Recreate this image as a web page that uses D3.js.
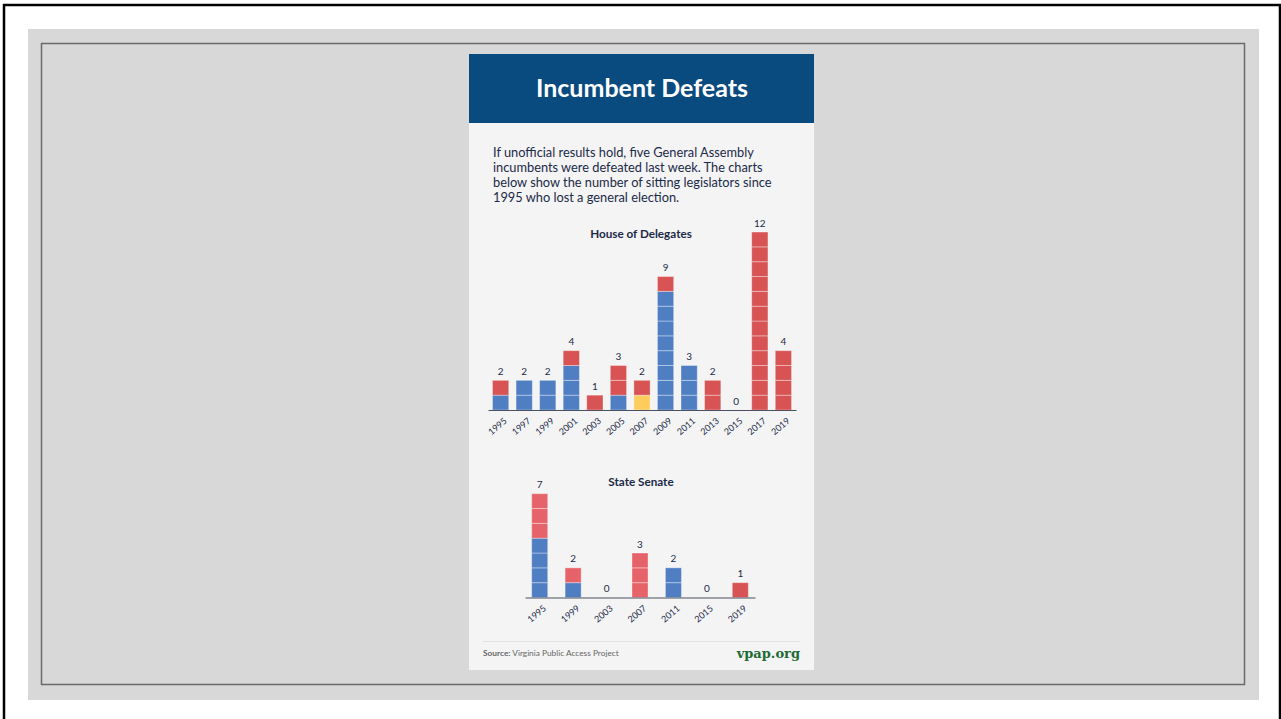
<!DOCTYPE html>
<html>
<head>
<meta charset="utf-8">
<script src="https://cdn.jsdelivr.net/npm/d3@7"></script>
<style>
    body { margin: 0; background: #fff; }
    svg { display: block; font-family: Lato, "Open Sans", sans-serif; }
</style>
</head>
<body>
<svg id="svg1" width="1281" height="719"></svg>
<script>
// House of Delegates: one entry per defeated incumbent, bottom to top
var houseYears = ["1995", "1997", "1999", "2001", "2003", "2005", "2007", "2009", "2011", "2013", "2015", "2017", "2019"];
var houseSegments = [
    ["D", "R"],
    ["D", "D"],
    ["D", "D"],
    ["D", "D", "D", "R"],
    ["R"],
    ["D", "R", "R"],
    ["I", "R"],
    ["D", "D", "D", "D", "D", "D", "D", "D", "R"],
    ["D", "D", "D"],
    ["R", "R"],
    [],
    ["R", "R", "R", "R", "R", "R", "R", "R", "R", "R", "R", "R"],
    ["R", "R", "R", "R"]
];

// State Senate
var senateYears = ["1995", "1999", "2003", "2007", "2011", "2015", "2019"];
var senateSegments = [
    ["D", "D", "D", "D", "r", "r", "r"],
    ["D", "r"],
    [],
    ["r", "r", "r"],
    ["D", "D"],
    [],
    ["R"]
];

var introLines = [
    "If unofficial results hold, five General Assembly",
    "incumbents were defeated last week. The charts",
    "below show the number of sitting legislators since",
    "1995 who lost a general election."
];

var partyColor = { D: "#4f7ec3", R: "#d85354", r: "#e6636a", I: "#fdcd5c" };

var svg = d3.select("#svg1");

// page frames
svg.append("rect").attr("x", 4).attr("y", 5).attr("width", 1276).attr("height", 740)
    .attr("fill", "#fff").attr("stroke", "#000").attr("stroke-width", 2.5);
svg.append("rect").attr("x", 28).attr("y", 29).attr("width", 1231).attr("height", 671)
    .attr("fill", "#d8d8d8");
svg.append("rect").attr("x", 41.5).attr("y", 43.5).attr("width", 1203).attr("height", 641)
    .attr("fill", "#d8d8d8").attr("stroke", "#6a6a6a").attr("stroke-width", 1.5);

// card
svg.append("rect").attr("x", 469).attr("y", 54).attr("width", 345).attr("height", 616)
    .attr("fill", "#f4f4f4");
svg.append("rect").attr("x", 469).attr("y", 54).attr("width", 345).attr("height", 69)
    .attr("fill", "#0a4b7f");

svg.append("text")
    .attr("x", 642).attr("y", 97)
    .attr("text-anchor", "middle")
    .style("font-size", "25px").style("font-weight", "bold")
    .attr("fill", "#fff")
    .text("Incumbent Defeats");

svg.append("text")
    .attr("x", 493).attr("y", 157)
    .style("font-size", "12.8px")
    .attr("fill", "#1b2a48")
    .selectAll("tspan")
    .data(introLines)
    .enter().append("tspan")
    .attr("x", 493)
    .attr("dy", function (d, i) { return i ? 15 : 0; })
    .text(function (d) { return d; });

var unit = 14.83;

function draw(title, titleY, years, segments, range, padInner, padOuter, baseline, maxVal) {
    var x = d3.scaleBand()
        .domain(years)
        .range(range)
        .paddingInner(padInner)
        .paddingOuter(padOuter);

    var y = d3.scaleLinear()
        .domain([0, maxVal])
        .range([baseline, baseline - maxVal * unit]);

    svg.append("text")
        .attr("x", 641).attr("y", titleY)
        .attr("text-anchor", "middle")
        .style("font-size", "11.7px").style("font-weight", "bold")
        .attr("fill", "#1b2a48")
        .text(title);

    var cols = svg.append("g").selectAll(".col")
        .data(segments)
        .enter().append("g")
        .attr("class", "col")
        .attr("transform", function (d, i) { return "translate(" + x(years[i]) + ",0)"; });

    cols.selectAll("rect")
        .data(function (d) { return d; })
        .enter().append("rect")
        .attr("x", 0)
        .attr("width", x.bandwidth())
        .attr("y", function (d, j) { return y(j + 1); })
        .attr("height", function (d, j) { return y(j) - y(j + 1); })
        .attr("fill", function (d) { return partyColor[d]; })
        .attr("stroke", "rgba(255,255,255,0.35)")
        .attr("stroke-width", 1);

    cols.append("text")
        .attr("x", x.bandwidth() / 2)
        .attr("y", function (d) { return y(d.length) - 5.5; })
        .attr("text-anchor", "middle")
        .style("font-size", "10px")
        .attr("fill", "#1b2a48")
        .text(function (d) { return d.length; });

    var axis = svg.append("g")
        .attr("transform", "translate(0," + baseline + ")")
        .call(d3.axisBottom(x).tickSize(0).tickSizeOuter(0));

    axis.select(".domain").attr("stroke", "#4a5060").attr("stroke-width", 1);
    axis.selectAll(".tick text")
        .style("font-family", "Lato, sans-serif")
        .style("font-size", "9px")
        .attr("fill", "#1b2a48")
        .attr("text-anchor", "end")
        .attr("dy", null)
        .attr("y", 0)
        .attr("transform", "translate(7,12) rotate(-40)");
}

draw("House of Delegates", 238, houseYears, houseSegments, [488, 796], 0.31, 0.19, 410, 12);
draw("State Senate", 486, senateYears, senateSegments, [525, 755], 0.52, 0.2, 597.5, 7);

// footer
svg.append("line")
    .attr("x1", 483).attr("x2", 800).attr("y1", 641.5).attr("y2", 641.5)
    .attr("stroke", "#e2e2e2").attr("stroke-width", 1);

var src = svg.append("text")
    .attr("x", 483).attr("y", 656)
    .style("font-size", "8.3px")
    .attr("fill", "#666");
src.append("tspan").style("font-weight", "bold").text("Source:");
src.append("tspan").text(" Virginia Public Access Project");

svg.append("text")
    .attr("x", 800).attr("y", 658)
    .attr("text-anchor", "end")
    .style("font-family", "'DejaVu Serif', serif")
    .style("font-size", "13px").style("font-weight", "bold")
    .attr("fill", "#1e6a35")
    .text("vpap.org");
</script>
</body>
</html>
